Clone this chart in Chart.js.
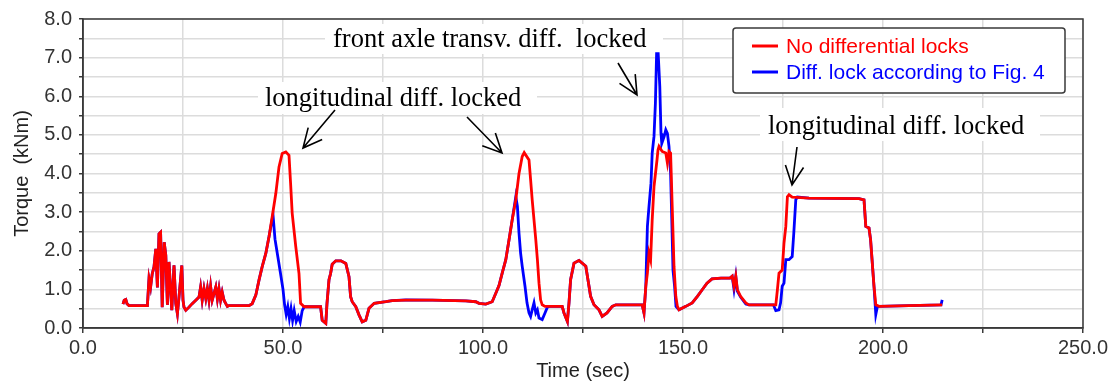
<!DOCTYPE html>
<html>
<head>
<meta charset="utf-8">
<script src="https://cdn.jsdelivr.net/npm/chart.js@4/dist/chart.umd.min.js"></script>
<style>
html,body{margin:0;padding:0;background:#fff;}
#wrap{width:1115px;height:383px;}
</style>
</head>
<body>
<div id="wrap"><canvas id="c" width="1115" height="383"></canvas></div>
<script>
// ---- Data ----
const timeRed = [10.0,10.3,10.7,11.0,11.5,16.1,16.5,16.9,17.3,17.75,18.2,18.6,19.0,19.4,19.8,20.3,20.7,21.1,21.5,22.2,22.75,23.2,23.6,24.0,24.7,25.0,25.25,25.7,26.5,27.3,28.2,29.0,29.4,29.8,30.25,30.7,31.1,31.5,31.9,32.3,33.2,33.6,34.0,34.4,34.8,35.25,35.7,36.1,36.5,41.5,42.3,43.2,44.0,44.8,45.7,46.5,47.3,48.2,49.0,49.8,50.7,51.5,51.9,52.3,53.2,54.0,54.4,55.3,59.4,59.8,60.7,61.0,61.5,61.9,62.3,63.2,64.5,65.7,66.5,66.9,67.3,68.2,69.0,69.8,70.7,71.5,72.8,75.7,77.3,80.7,87.3,95.7,98.2,99.0,100.7,102.3,103.2,104.0,104.8,105.7,106.5,107.3,108.2,109.0,109.8,110.3,111.5,111.9,112.3,112.75,113.2,113.6,114.0,114.4,114.8,115.5,119.8,120.25,121.1,121.5,121.9,122.75,124.0,125.7,126.5,126.9,127.75,129.0,129.8,131.0,132.3,133.2,139.8,140.25,140.7,141.1,141.5,141.9,142.3,142.75,143.5,143.75,144.0,144.8,145.7,146.1,146.5,146.9,147.3,147.75,148.2,148.6,149.0,150.7,152.3,153.6,154.8,156.0,157.25,159.5,161.75,162.3,162.75,163.2,163.6,164.4,165.7,166.5,173.2,173.6,174.0,174.8,175.25,175.7,176.1,176.5,177.3,181.5,194.0,195.25,195.7,196.5,196.9,197.75,198.2,199.0,206.5,214.8];
const torqueRed = [0.62,0.72,0.74,0.63,0.58,0.58,1.28,1.06,1.40,1.58,2.05,1.05,2.44,2.48,0.54,2.22,1.88,0.60,1.71,0.46,1.62,0.63,0.37,0.80,1.62,0.72,0.54,0.46,0.54,0.63,0.72,0.80,1.06,0.72,1.02,0.76,1.02,0.72,1.08,0.72,1.06,0.75,1.02,0.72,0.93,0.72,0.63,0.56,0.58,0.58,0.63,0.85,1.24,1.59,1.93,2.36,2.88,3.48,4.17,4.52,4.56,4.47,3.74,2.97,2.10,1.41,0.64,0.55,0.55,0.20,0.12,0.64,1.25,1.41,1.65,1.74,1.74,1.67,1.33,0.81,0.68,0.55,0.34,0.16,0.20,0.51,0.64,0.68,0.71,0.72,0.72,0.70,0.68,0.64,0.62,0.68,0.90,1.10,1.42,1.77,2.28,2.80,3.32,4.00,4.44,4.54,4.35,3.84,3.32,2.80,2.28,1.77,1.16,0.73,0.60,0.56,0.56,0.39,0.17,0.65,1.25,1.68,1.75,1.60,1.08,0.82,0.60,0.47,0.30,0.39,0.56,0.60,0.60,0.39,1.08,1.42,1.94,1.77,2.80,3.66,4.35,4.61,4.70,4.57,4.53,4.27,4.57,4.53,3.15,1.60,0.82,0.56,0.47,0.56,0.65,0.82,0.99,1.16,1.27,1.29,1.29,1.34,1.08,1.34,0.99,0.82,0.65,0.60,0.60,0.99,1.42,1.50,2.20,2.63,3.40,3.45,3.39,3.36,3.35,3.32,2.63,2.59,2.28,1.08,0.60,0.56,0.58,0.60];

const timeBlue = [10.0,10.3,10.7,11.0,11.5,16.1,16.5,16.9,17.3,17.75,18.2,18.6,19.0,19.4,19.8,20.3,20.7,21.1,21.5,22.2,22.75,23.2,23.6,24.0,24.7,25.0,25.25,25.7,26.5,27.3,28.2,29.0,29.4,29.8,30.25,30.7,31.1,31.5,31.9,32.3,33.2,33.6,34.0,34.4,34.8,35.25,35.7,36.1,36.5,41.5,42.3,43.2,44.0,44.8,45.7,46.5,47.5,48.0,48.7,49.4,50.0,50.4,50.8,51.2,51.6,52.0,52.4,52.8,53.3,53.8,54.3,54.8,55.3,59.4,59.8,60.7,61.0,61.5,61.9,62.3,63.2,64.5,65.7,66.5,66.9,67.3,68.2,69.0,69.8,70.7,71.5,72.8,75.7,77.3,80.7,87.3,95.7,98.2,99.0,100.7,102.3,103.2,104.0,104.8,105.7,106.5,107.3,108.2,108.6,109.0,109.4,109.8,110.5,111.0,111.5,111.9,112.3,112.75,113.2,113.6,114.0,114.8,115.5,116.1,116.5,119.8,120.25,121.1,121.5,121.9,122.75,124.0,125.7,126.5,126.9,127.75,129.0,129.8,131.0,132.3,133.2,139.8,140.25,140.7,141.1,141.5,142.0,142.3,142.75,143.1,143.4,143.8,144.2,144.5,144.7,145.3,145.7,146.1,146.5,146.9,147.2,147.5,147.9,148.25,149.0,150.7,152.3,153.6,154.8,156.0,157.25,159.5,161.75,162.3,162.75,163.2,163.6,164.4,165.7,166.5,172.6,173.2,174.0,174.4,174.8,175.25,175.7,176.5,177.3,177.7,178.2,178.6,181.5,194.0,195.25,195.7,196.5,196.9,197.75,198.2,198.6,199.0,206.5,214.5,214.8];
const torqueBlue = [0.62,0.72,0.74,0.63,0.58,0.58,1.28,1.06,1.40,1.58,2.05,1.05,2.44,2.48,0.54,2.22,1.88,0.60,1.71,0.46,1.62,0.63,0.37,0.80,1.62,0.72,0.54,0.46,0.54,0.63,0.72,0.80,1.06,0.72,1.02,0.76,1.02,0.72,1.08,0.72,1.06,0.75,1.02,0.72,0.93,0.72,0.63,0.56,0.58,0.58,0.63,0.85,1.24,1.59,1.93,2.36,2.93,2.30,1.85,1.40,1.00,0.60,0.35,0.55,0.25,0.50,0.20,0.45,0.17,0.30,0.15,0.45,0.55,0.55,0.20,0.12,0.64,1.25,1.41,1.65,1.74,1.74,1.67,1.33,0.81,0.68,0.55,0.34,0.16,0.20,0.51,0.64,0.68,0.71,0.73,0.72,0.70,0.68,0.64,0.62,0.68,0.90,1.10,1.42,1.77,2.28,2.80,3.40,3.15,2.46,1.94,1.60,1.08,0.65,0.39,0.30,0.47,0.65,0.39,0.47,0.26,0.22,0.39,0.54,0.56,0.56,0.39,0.17,0.65,1.25,1.68,1.75,1.60,1.08,0.82,0.60,0.47,0.30,0.39,0.56,0.60,0.60,0.39,1.08,2.63,3.15,3.75,4.53,4.96,5.82,7.10,7.10,6.25,5.04,4.78,4.96,5.13,5.04,4.70,4.00,2.80,1.50,1.08,0.56,0.47,0.56,0.65,0.82,0.99,1.16,1.27,1.29,1.29,1.34,1.00,1.34,0.95,0.80,0.62,0.60,0.60,0.45,0.47,0.65,1.08,1.16,1.77,1.77,1.85,2.46,3.32,3.39,3.36,3.35,3.32,2.63,2.59,2.28,1.08,0.35,0.56,0.56,0.58,0.60,0.73];

const seriesNames = ['No differential locks', 'Diff. lock according to Fig. 4'];
const seriesColors = ['#ff0000', '#0000ff'];
const xTickValues = [0,25,50,75,100,125,150,175,200,225,250];
const xTickLabels = ['0.0','','50.0','','100.0','','150.0','','200.0','','250.0'];
const yTickValues = [0,0.5,1,1.5,2,2.5,3,3.5,4,4.5,5,5.5,6,6.5,7,7.5,8];
const yTickLabels = ['0.0','','1.0','','2.0','','3.0','','4.0','','5.0','','6.0','','7.0','','8.0'];
const xTitle = 'Time (sec)';
const yTitle = 'Torque  (kNm)';
const annotations = [
  {text:'longitudinal diff. locked', x:265, y:106, box:[258,82,537,114], arrows:[[335,110,303,148],[467,117,502,153]]},
  {text:'front axle transv. diff.  locked', x:333, y:47, box:[325,24,663,54], arrows:[[618,63,637,95]]},
  {text:'longitudinal diff. locked', x:768, y:134, box:[760,108,1040,141], arrows:[[797,147,792,185]]}
];

const pts = (xs, ys) => xs.map((x, i) => ({x: x, y: ys[i]}));

const SANS = '"Liberation Sans", Arial, sans-serif';
const SERIF = '"Liberation Serif", "Times New Roman", serif';

const framePlugin = {
  id: 'frame',
  beforeDatasetsDraw(chart) {
    const ctx = chart.ctx;
    ctx.save();
    for (const a of annotations) {
      ctx.fillStyle = '#ffffff';
      ctx.fillRect(a.box[0], a.box[1], a.box[2]-a.box[0], a.box[3]-a.box[1]);
    }
    ctx.restore();
  },
  afterDatasetsDraw(chart) {
    const ctx = chart.ctx;
    const a = chart.chartArea;
    ctx.save();
    ctx.strokeStyle = '#3a3a3a';
    ctx.lineWidth = 1.5;
    ctx.strokeRect(a.left, a.top, a.right - a.left, a.bottom - a.top);
    // annotations
    ctx.fillStyle = '#000';
    ctx.font = '26.5px ' + SERIF;
    ctx.textBaseline = 'alphabetic';
    ctx.textAlign = 'left';
    ctx.strokeStyle = '#000';
    ctx.lineWidth = 1.6;
    for (const an of annotations) {
      ctx.fillText(an.text, an.x, an.y);
      for (const ar of an.arrows) {
        const [x1,y1,x2,y2] = ar;
        ctx.beginPath();
        ctx.moveTo(x1,y1); ctx.lineTo(x2,y2);
        const ang = Math.atan2(y2-y1, x2-x1);
        const L = 21, w = 0.45;
        ctx.moveTo(x2 - L*Math.cos(ang - w), y2 - L*Math.sin(ang - w));
        ctx.lineTo(x2, y2);
        ctx.lineTo(x2 - L*Math.cos(ang + w), y2 - L*Math.sin(ang + w));
        ctx.stroke();
      }
    }
    // legend
    const lx = 733, ly = 28, lw = 332, lh = 65, r = 3;
    ctx.fillStyle = '#fff';
    ctx.strokeStyle = '#3a3a3a';
    ctx.lineWidth = 1.5;
    ctx.beginPath();
    ctx.moveTo(lx + r, ly);
    ctx.arcTo(lx + lw, ly, lx + lw, ly + lh, r);
    ctx.arcTo(lx + lw, ly + lh, lx, ly + lh, r);
    ctx.arcTo(lx, ly + lh, lx, ly, r);
    ctx.arcTo(lx, ly, lx + lw, ly, r);
    ctx.closePath();
    ctx.fill(); ctx.stroke();
    ctx.font = '21px ' + SANS;
    ctx.textBaseline = 'middle';
    seriesNames.forEach((n, i) => {
      const yy = 46 + i*26;
      ctx.strokeStyle = seriesColors[i];
      ctx.lineWidth = 3;
      ctx.beginPath(); ctx.moveTo(752, yy); ctx.lineTo(778, yy); ctx.stroke();
      ctx.fillStyle = seriesColors[i];
      ctx.fillText(n, 786, yy + 1);
    });
    ctx.restore();
  }
};

new Chart(document.getElementById('c'), {
  type: 'scatter',
  data: {
    datasets: [
      {label: seriesNames[0], order: 0, data: pts(timeRed, torqueRed), showLine: true, borderColor: seriesColors[0], backgroundColor: seriesColors[0], borderWidth: 2.8, pointRadius: 0, tension: 0},
      {label: seriesNames[1], order: 1, data: pts(timeBlue, torqueBlue), showLine: true, borderColor: seriesColors[1], backgroundColor: seriesColors[1], borderWidth: 2.8, pointRadius: 0, tension: 0}
    ]
  },
  options: {
    responsive: false,
    animation: false,
    devicePixelRatio: 1,
    layout: {padding: {top: 19, right: 32, left: 0, bottom: 0}},
    plugins: {legend: {display: false}, tooltip: {enabled: false}},
    scales: {
      x: {
        type: 'linear', min: 0, max: 250,
        afterBuildTicks(s) { s.ticks = xTickValues.map(v => ({value: v})); },
        afterFit(s) { s.height = 55; },
        grid: {color: '#dcdcdc', lineWidth: 1.5, tickLength: 5, tickColor: '#3a3a3a', tickWidth: 1.5},
        border: {color: '#3a3a3a', width: 1.5},
        ticks: {autoSkip: false, maxRotation: 0, padding: 3, color: '#333', font: {family: SANS, size: 20},
          callback(v) { const i = xTickValues.indexOf(v); return i >= 0 ? xTickLabels[i] : ''; }},
        title: {display: true, text: xTitle, color: '#222', font: {family: SANS, size: 20}, padding: {top: 0, bottom: 0}}
      },
      y: {
        min: 0, max: 8,
        afterBuildTicks(s) { s.ticks = yTickValues.map(v => ({value: v})); },
        afterFit(s) { s.width = 83; },
        grid: {color: '#dcdcdc', lineWidth: 1.5, tickLength: 4, tickColor: '#3a3a3a', tickWidth: 1.5},
        border: {color: '#3a3a3a', width: 1.5},
        ticks: {autoSkip: false, padding: 7, color: '#333', font: {family: SANS, size: 20},
          callback(v) { const i = yTickValues.indexOf(v); return i >= 0 ? yTickLabels[i] : ''; }},
        title: {display: true, text: yTitle, color: '#222', font: {family: SANS, size: 20}, padding: {top: 10, bottom: 0}}
      }
    }
  },
  plugins: [framePlugin]
});
</script>
</body>
</html>
